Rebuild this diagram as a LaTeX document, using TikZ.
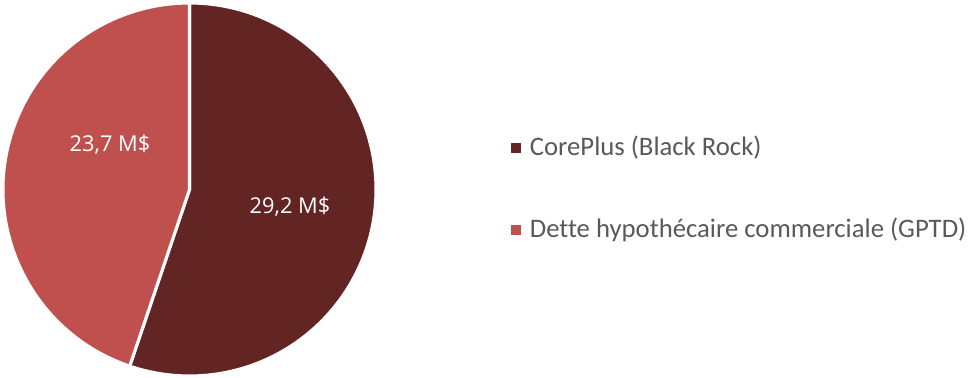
\documentclass[tikz,border=0pt]{standalone}
\usepackage{fontspec}
\setmainfont{Carlito}[Ligatures=NoCommon]
\newfontfamily\labelfont{Open Sans}
\usetikzlibrary{positioning}
\definecolor{cdark}{HTML}{632523}
\definecolor{clight}{HTML}{C0504D}
\definecolor{ctext}{HTML}{595959}
\tikzset{
  every picture/.style={line width=1.2pt},
  slice/.style={fill=#1, draw=white, line width=2.2pt, line join=round},
  val/.style={font=\labelfont\fontsize{15.5}{18}\selectfont, text=white},
  key/.style={fill=#1, minimum size=0.25cm, inner sep=0pt},
  keytext/.style={font=\fontsize{19}{23}\selectfont, text=ctext, anchor=west, inner sep=0pt},
}
\begin{document}
\begin{tikzpicture}
  \useasboundingbox (0,0) rectangle (24.2,9.45);
  \def\r{4.6625}
  \coordinate (c) at (4.7375,4.7125);
  % the two slices, starting at the top
  \path[slice=cdark] (c) -- ++(90:\r) arc[start angle=90, end angle=-108.7, radius=\r] -- cycle;
  \path[slice=clight] (c) -- ++(-108.7:\r) arc[start angle=-108.7, end angle=-270, radius=\r] -- cycle;
  \node[val] (v1) at (7.25,4.275) {29,2 M\$};
  \node[val] (v2) at (2.75,5.825) {23,7 M\$};
  % legend
  \node[key=cdark] (k1) at (12.9,5.75) {};
  \node[keytext, right=0.18cm of k1] (t1) {CorePlus (Black Rock)};
  \node[key=clight] (k2) at (12.9,3.7) {};
  \node[keytext, right=0.18cm of k2] (t2) {Dette hypothécaire commerciale (GPTD)};
\end{tikzpicture}
\end{document}
